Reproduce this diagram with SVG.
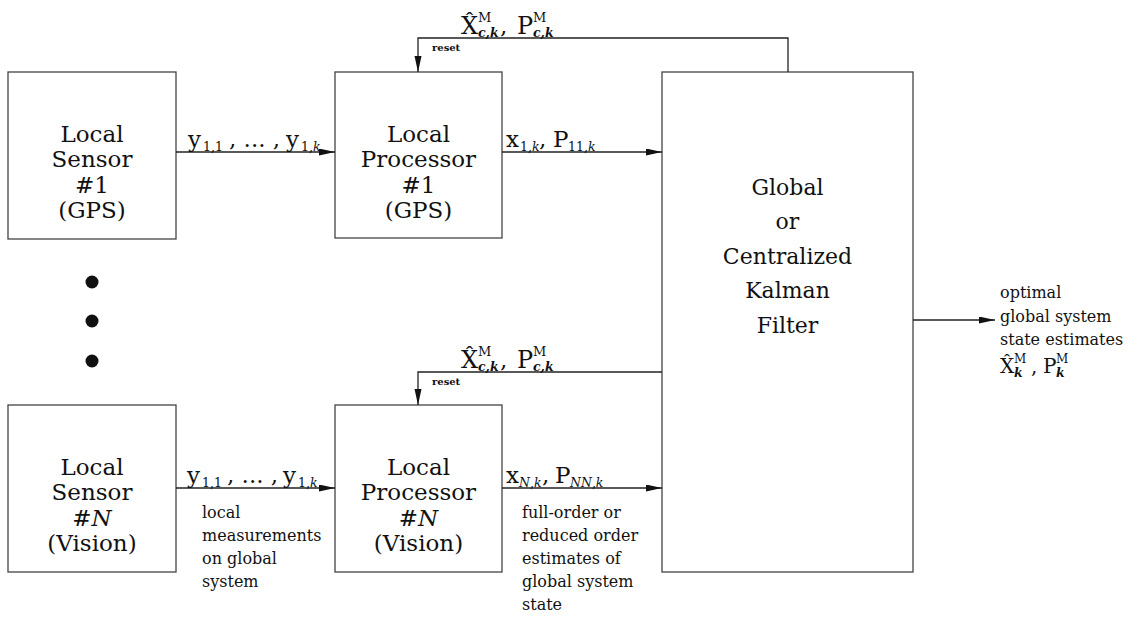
<svg xmlns="http://www.w3.org/2000/svg" width="1130" height="625" viewBox="0 0 1130 625">
<style>
.box{fill:none;stroke:#444;stroke-width:1.3}
.ln{fill:none;stroke:#222;stroke-width:1.3}
.t{font-family:"DejaVu Serif",serif;fill:#111}
.big{font-size:23px;text-anchor:middle}
.lab{font-size:23px}
.sub{font-size:12.5px}
.sup{font-size:13px}
.sm{font-size:16px}
.rs{font-size:10px;font-weight:bold}
.bi{font-weight:bold;font-style:italic}
.it{font-style:italic}
</style>
<defs>
<marker id="ah" markerUnits="userSpaceOnUse" markerWidth="17" markerHeight="8" refX="16" refY="3.5" orient="auto">
<path d="M0,0 L16,3.5 L0,7 Z" fill="#111"/>
</marker>
</defs>
<rect width="1130" height="625" fill="#fff"/>

<g id="sensor1">
<rect class="box" x="8" y="72" width="168" height="167"/>
<text class="t big" x="92" y="142">Local</text>
<text class="t big" x="92" y="167">Sensor</text>
<text class="t big" x="92" y="193">#1</text>
<text class="t big" x="92" y="218">(GPS)</text>
</g>

<g id="processor1">
<rect class="box" x="335" y="72" width="167" height="166"/>
<text class="t big" x="418.5" y="142">Local</text>
<text class="t big" x="418.5" y="167">Processor</text>
<text class="t big" x="418.5" y="193">#1</text>
<text class="t big" x="418.5" y="218">(GPS)</text>
</g>

<g id="sensorN">
<rect class="box" x="8" y="405" width="168" height="167"/>
<text class="t big" x="92" y="475">Local</text>
<text class="t big" x="92" y="500">Sensor</text>
<text class="t big" x="92" y="526">#<tspan class="it">N</tspan></text>
<text class="t big" x="92" y="551">(Vision)</text>
</g>

<g id="processorN">
<rect class="box" x="335" y="405" width="167" height="167"/>
<text class="t big" x="418.5" y="475">Local</text>
<text class="t big" x="418.5" y="500">Processor</text>
<text class="t big" x="418.5" y="526">#<tspan class="it">N</tspan></text>
<text class="t big" x="418.5" y="551">(Vision)</text>
</g>

<g id="kalman">
<rect class="box" x="662" y="72" width="251" height="500"/>
<text class="t big" x="787.5" y="195" style="font-size:22px">Global</text>
<text class="t big" x="787.5" y="229" style="font-size:22px">or</text>
<text class="t big" x="787.5" y="264" style="font-size:22px">Centralized</text>
<text class="t big" x="787.5" y="298" style="font-size:22px">Kalman</text>
<text class="t big" x="787.5" y="333" style="font-size:22px">Filter</text>
</g>

<g id="dots" fill="#111">
<circle cx="92" cy="282" r="6.5"/>
<circle cx="92" cy="321" r="6.5"/>
<circle cx="92" cy="361" r="6.5"/>
</g>

<g id="connectors">
<line class="ln" x1="176" y1="152" x2="335" y2="152" marker-end="url(#ah)"/>
<line class="ln" x1="502" y1="152" x2="662" y2="152" marker-end="url(#ah)"/>
<line class="ln" x1="176" y1="488" x2="335" y2="488" marker-end="url(#ah)"/>
<line class="ln" x1="502" y1="488" x2="662" y2="488" marker-end="url(#ah)"/>
<polyline class="ln" points="788,72 788,38 418,38 418,72" marker-end="url(#ah)"/>
<polyline class="ln" points="662,372 418,372 418,405" marker-end="url(#ah)"/>
<line class="ln" x1="913" y1="320" x2="995" y2="320" marker-end="url(#ah)"/>
</g>

<g id="labels" class="t">
<text class="lab" x="188" y="147">y</text>
<text class="sub" x="203" y="151">1,1</text>
<text class="lab" x="229" y="147">, ... ,</text>
<text class="lab" x="286" y="147">y</text>
<text class="sub" x="301" y="151">1,<tspan class="it">k</tspan></text>

<text class="lab" x="187" y="483">y</text>
<text class="sub" x="202" y="487">1,1</text>
<text class="lab" x="227" y="483">, ... ,</text>
<text class="lab" x="283" y="483">y</text>
<text class="sub" x="298" y="487">1,<tspan class="it">k</tspan></text>

<text class="lab" x="506" y="147">x</text>
<text class="sub" x="520" y="151">1,<tspan class="it">k</tspan></text>
<text class="lab" x="539" y="147">,</text>
<text class="lab" x="553" y="147">P</text>
<text class="sub" x="568" y="151">11,<tspan class="it">k</tspan></text>

<text class="lab" x="506" y="483">x</text>
<text class="sub" x="519" y="487"><tspan class="it">N</tspan>,<tspan class="it">k</tspan></text>
<text class="lab" x="542" y="483">,</text>
<text class="lab" x="555" y="483">P</text>
<text class="sub" x="570" y="487"><tspan class="it">NN</tspan>,<tspan class="it">k</tspan></text>

<text class="lab" x="461" y="34" style="font-size:24px">X&#x302;</text>
<text class="sup" x="478" y="22">M</text>
<text class="sub bi" x="478" y="37">c,k</text>
<text class="lab" x="500" y="34">,</text>
<text class="lab" x="517" y="34" style="font-size:24px">P</text>
<text class="sup" x="533" y="22">M</text>
<text class="sub bi" x="533" y="37">c,k</text>
<text class="rs" x="432" y="51">reset</text>

<text class="lab" x="461" y="368" style="font-size:24px">X&#x302;</text>
<text class="sup" x="478" y="356">M</text>
<text class="sub bi" x="478" y="371">c,k</text>
<text class="lab" x="500" y="368">,</text>
<text class="lab" x="517" y="368" style="font-size:24px">P</text>
<text class="sup" x="533" y="356">M</text>
<text class="sub bi" x="533" y="371">c,k</text>
<text class="rs" x="432" y="385">reset</text>

<text class="sm" x="202" y="518">local</text>
<text class="sm" x="202" y="541">measurements</text>
<text class="sm" x="202" y="564">on global</text>
<text class="sm" x="202" y="587">system</text>

<text class="sm" x="522" y="518">full-order or</text>
<text class="sm" x="522" y="541">reduced order</text>
<text class="sm" x="522" y="564">estimates of</text>
<text class="sm" x="522" y="587">global system</text>
<text class="sm" x="522" y="610">state</text>

<text class="sm" x="1000" y="298">optimal</text>
<text class="sm" x="1000" y="322">global system</text>
<text class="sm" x="1000" y="345">state estimates</text>
<text class="lab" x="1000" y="373" style="font-size:20px">X&#x302;</text>
<text class="sup" x="1014" y="363" style="font-size:12px">M</text>
<text class="sub bi" x="1014" y="377">k</text>
<text class="lab" x="1031" y="373" style="font-size:20px">,</text>
<text class="lab" x="1043" y="373" style="font-size:20px">P</text>
<text class="sup" x="1056" y="363" style="font-size:12px">M</text>
<text class="sub bi" x="1056" y="377">k</text>
</g>
</svg>
